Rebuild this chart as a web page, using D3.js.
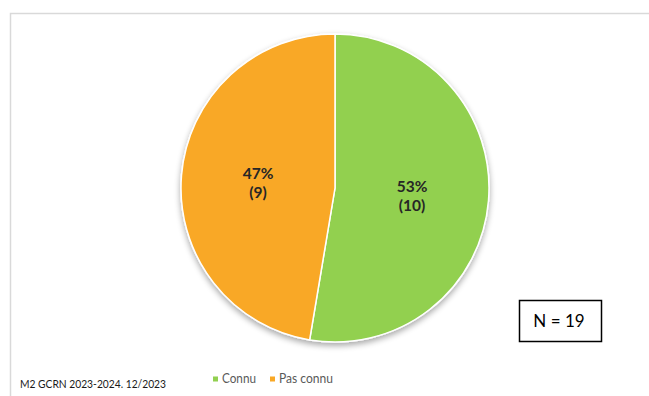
<!DOCTYPE html>
<html><head><meta charset="utf-8">
<script src="https://cdn.jsdelivr.net/npm/d3@7"></script>
<style>html,body{margin:0;padding:0;background:#fff;}svg{display:block;}</style>
</head><body>
<script>
const categories = ["Connu", "Pas connu"];
const values = [10, 9];
const percents = ["53%", "47%"];
const colors = ["#92D050", "#F9A825"];
const total = 19;

const W = 649, H = 396;
const svg = d3.select("body").append("svg").attr("width", W).attr("height", H);
const FF = "Lato, 'Open Sans', sans-serif";

// frame
svg.append("path").attr("d", `M10.5,${H} L10.5,13.5 L${W},13.5`)
  .attr("fill", "none").attr("stroke", "#d9d9d9").attr("stroke-width", 1.5);

const defs = svg.append("defs");
const f = defs.append("filter").attr("id", "sh").attr("x", "-20%").attr("y", "-20%").attr("width", "140%").attr("height", "150%");
f.append("feGaussianBlur").attr("in", "SourceAlpha").attr("stdDeviation", 3);
f.append("feOffset").attr("dx", 0).attr("dy", 3).attr("result", "b");
f.append("feComponentTransfer").append("feFuncA").attr("type", "linear").attr("slope", 0.35);
const m = f.append("feMerge");
m.append("feMergeNode");
m.append("feMergeNode").attr("in", "SourceGraphic");

const cx = 335, cy = 188, r = 154;
const pie = d3.pie().sort(null).value(d => d)(values);
const arc = d3.arc().innerRadius(0).outerRadius(r);
const g = svg.append("g").attr("transform", `translate(${cx},${cy})`);
g.append("g").attr("filter", "url(#sh)").selectAll("path").data(pie).join("path")
  .attr("d", arc).attr("fill", (d, i) => colors[i])
  .attr("stroke", "#fff").attr("stroke-width", 1.5);

const labelPos = [[77, 4], [-77, -9]];
const lg = g.selectAll("text.lab").data(pie).join("text")
  .attr("class", "lab")
  .attr("text-anchor", "middle")
  .attr("font-family", FF)
  .attr("font-weight", "bold").attr("font-size", 15.5).attr("fill", "#262626")
  .attr("transform", (d, i) => `translate(${labelPos[i][0]},${labelPos[i][1]})`);
lg.append("tspan").attr("x", 0).attr("dy", 0).text((d, i) => percents[i]);
lg.append("tspan").attr("x", 0).attr("dy", 19).text((d, i) => `(${values[i]})`);

// legend
const legX = [213, 270];
const legW = [34, 54];
const leg = svg.append("g");
categories.forEach((c, i) => {
  leg.append("rect").attr("x", legX[i]).attr("y", 376.5).attr("width", 5).attr("height", 5).attr("fill", colors[i]);
  leg.append("text").attr("x", legX[i] + 9).attr("y", 383)
    .attr("font-family", FF).attr("font-size", 13).attr("fill", "#595959")
    .attr("textLength", legW[i]).attr("lengthAdjust", "spacingAndGlyphs").text(c);
});

// footnote
svg.append("text").attr("x", 20).attr("y", 388)
  .attr("font-family", FF).attr("font-size", 11.5).attr("fill", "#1a1a1a")
  .attr("textLength", 146).attr("lengthAdjust", "spacingAndGlyphs")
  .text("M2 GCRN 2023-2024. 12/2023");

// N box
svg.append("rect").attr("x", 519.5).attr("y", 300.5).attr("width", 82).attr("height", 41)
  .attr("fill", "#fff").attr("stroke", "#000").attr("stroke-width", 1.5);
svg.append("text").attr("x", 559).attr("y", 327).attr("text-anchor", "middle")
  .attr("font-family", FF).attr("font-size", 17).attr("fill", "#000")
  .text(`N = ${total}`);
</script>
</body></html>
